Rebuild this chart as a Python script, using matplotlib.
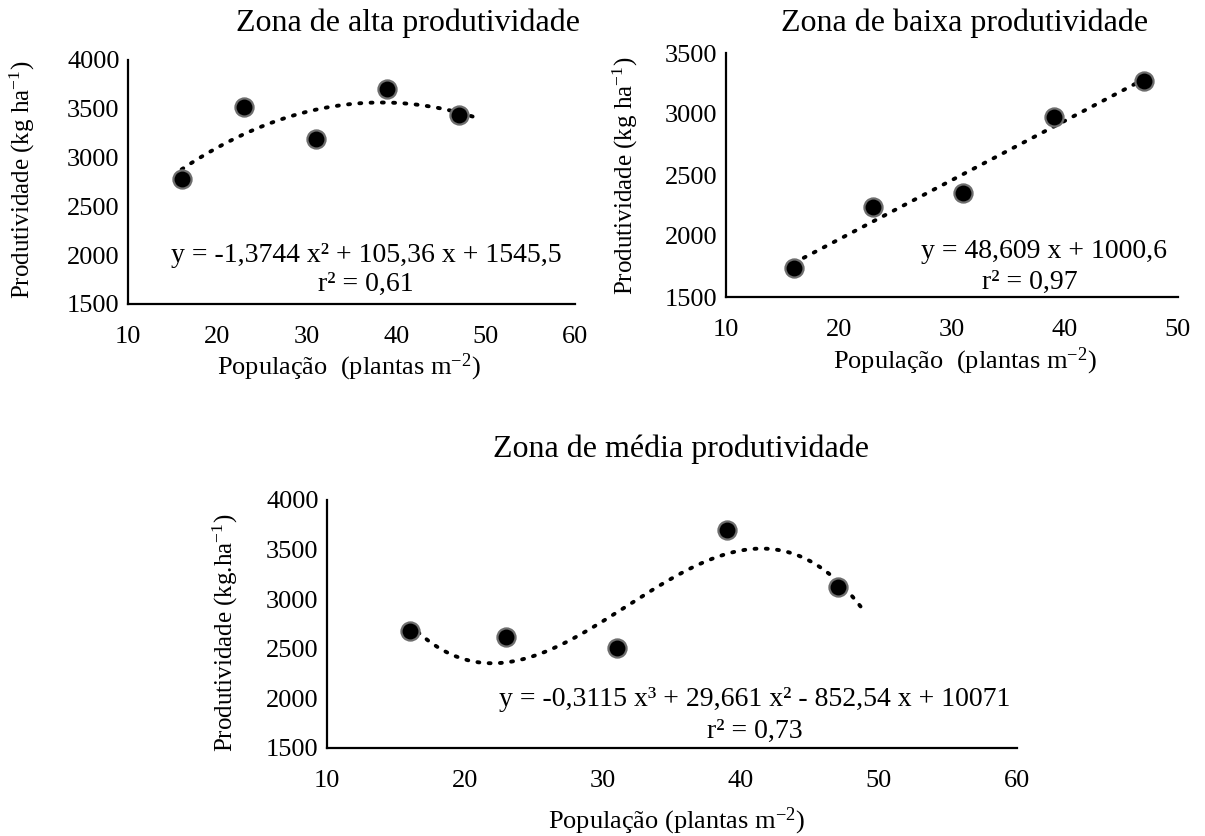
import numpy as np
import matplotlib.pyplot as plt

plt.rcParams['font.family'] = ['Liberation Serif', 'DejaVu Serif']
plt.rcParams['mathtext.fontset'] = 'custom'
plt.rcParams['mathtext.rm'] = 'Liberation Serif'
plt.rcParams['mathtext.it'] = 'Liberation Serif:italic'

# data
pop = [16, 23, 31, 39, 47]
alta = [2780, 3520, 3190, 3700, 3440]
baixa = [1740, 2240, 2350, 2975, 3270]
media = [2680, 2620, 2505, 3700, 3120]

# trend line coefficients as printed (highest power first)
coef_alta = [-1.3744, 105.36, 1545.5]
coef_baixa = [48.609, 1000.6]
coef_media = [-0.3115, 29.661, -852.54, 10071]

W, H = 1205, 836
fig = plt.figure(figsize=(W / 100, H / 100), dpi=100)

TICK = 19
LAB = 19
TIT = 23
EQ = 20


def px_axes(left, right, top, bottom):
    return fig.add_axes([left / W, 1 - bottom / H, (right - left) / W, (bottom - top) / H])


def ftext(x, y, s, **kw):
    return fig.text(x / W, 1 - y / H, s, ha='center', va='center', **kw)


def style(ax, xlim, xticks, ylim, yticks):
    ax.set_xlim(*xlim)
    ax.set_ylim(*ylim)
    ax.set_xticks(xticks)
    ax.set_yticks(yticks)
    for s in ['top', 'right']:
        ax.spines[s].set_visible(False)
    for s in ['left', 'bottom']:
        ax.spines[s].set_linewidth(1.6)
    ax.tick_params(length=0, labelsize=TICK)
    ax.tick_params(axis='x', pad=16)
    ax.tick_params(axis='y', pad=6)
    ax.set_facecolor('none')


def draw(ax, y, coef, x_end):
    xs = np.linspace(pop[0], x_end, 200)
    ax.plot(xs, np.polyval(coef, xs), color='black', lw=2.8, ls=(0, (0.5, 2.4)),
            dash_capstyle='round', zorder=2)
    ax.scatter(pop, y, s=170, color='black', edgecolor='#6e6e6e', linewidth=1.6,
               zorder=3, clip_on=False)


# panel 1: alta
ax1 = px_axes(128, 575, 60, 304)
style(ax1, (10, 60), range(10, 61, 10), (1500, 4000), range(1500, 4001, 500))
draw(ax1, alta, coef_alta, 49)
ftext(366, 255, 'y = -1,3744 x² + 105,36 x + 1545,5', fontsize=EQ)
ftext(366, 284, 'r² = 0,61', fontsize=EQ)
ftext(408, 23, 'Zona de alta produtividade', fontsize=TIT)
ftext(22, 180, 'Produtividade (kg ha$^{\\mathregular{-1}}$)', rotation=90, fontsize=18)
ftext(349, 367, 'População  (plantas m$^{\\mathregular{-2}}$)', fontsize=LAB)

# panel 2: baixa
ax2 = px_axes(726, 1178, 53, 297)
style(ax2, (10, 50), range(10, 51, 10), (1500, 3500), range(1500, 3501, 500))
draw(ax2, baixa, coef_baixa, 47)
fig.text(1167 / W, 1 - 252 / H, 'y = 48,609 x + 1000,6', ha='right', va='center', fontsize=EQ)
ftext(1030, 282, 'r² = 0,97', fontsize=EQ)
ftext(965, 23, 'Zona de baixa produtividade', fontsize=TIT)
ftext(625, 176, 'Produtividade (kg ha$^{\\mathregular{-1}}$)', rotation=90, fontsize=18)
ftext(965, 361, 'População  (plantas m$^{\\mathregular{-2}}$)', fontsize=LAB)

# panel 3: media
ax3 = px_axes(327, 1017, 500, 748)
style(ax3, (10, 60), range(10, 61, 10), (1500, 4000), range(1500, 4001, 500))
draw(ax3, media, coef_media, 49)
ftext(755, 700, 'y = -0,3115 x³ + 29,661 x² - 852,54 x + 10071', fontsize=EQ)
ftext(755, 731, 'r² = 0,73', fontsize=EQ)
ftext(681, 449, 'Zona de média produtividade', fontsize=TIT)
ftext(225, 633, 'Produtividade (kg.ha$^{\\mathregular{-1}}$)', rotation=90, fontsize=18)
ftext(677, 821, 'População (plantas m$^{\\mathregular{-2}}$)', fontsize=LAB)

fig.savefig('out.png', dpi=100)
